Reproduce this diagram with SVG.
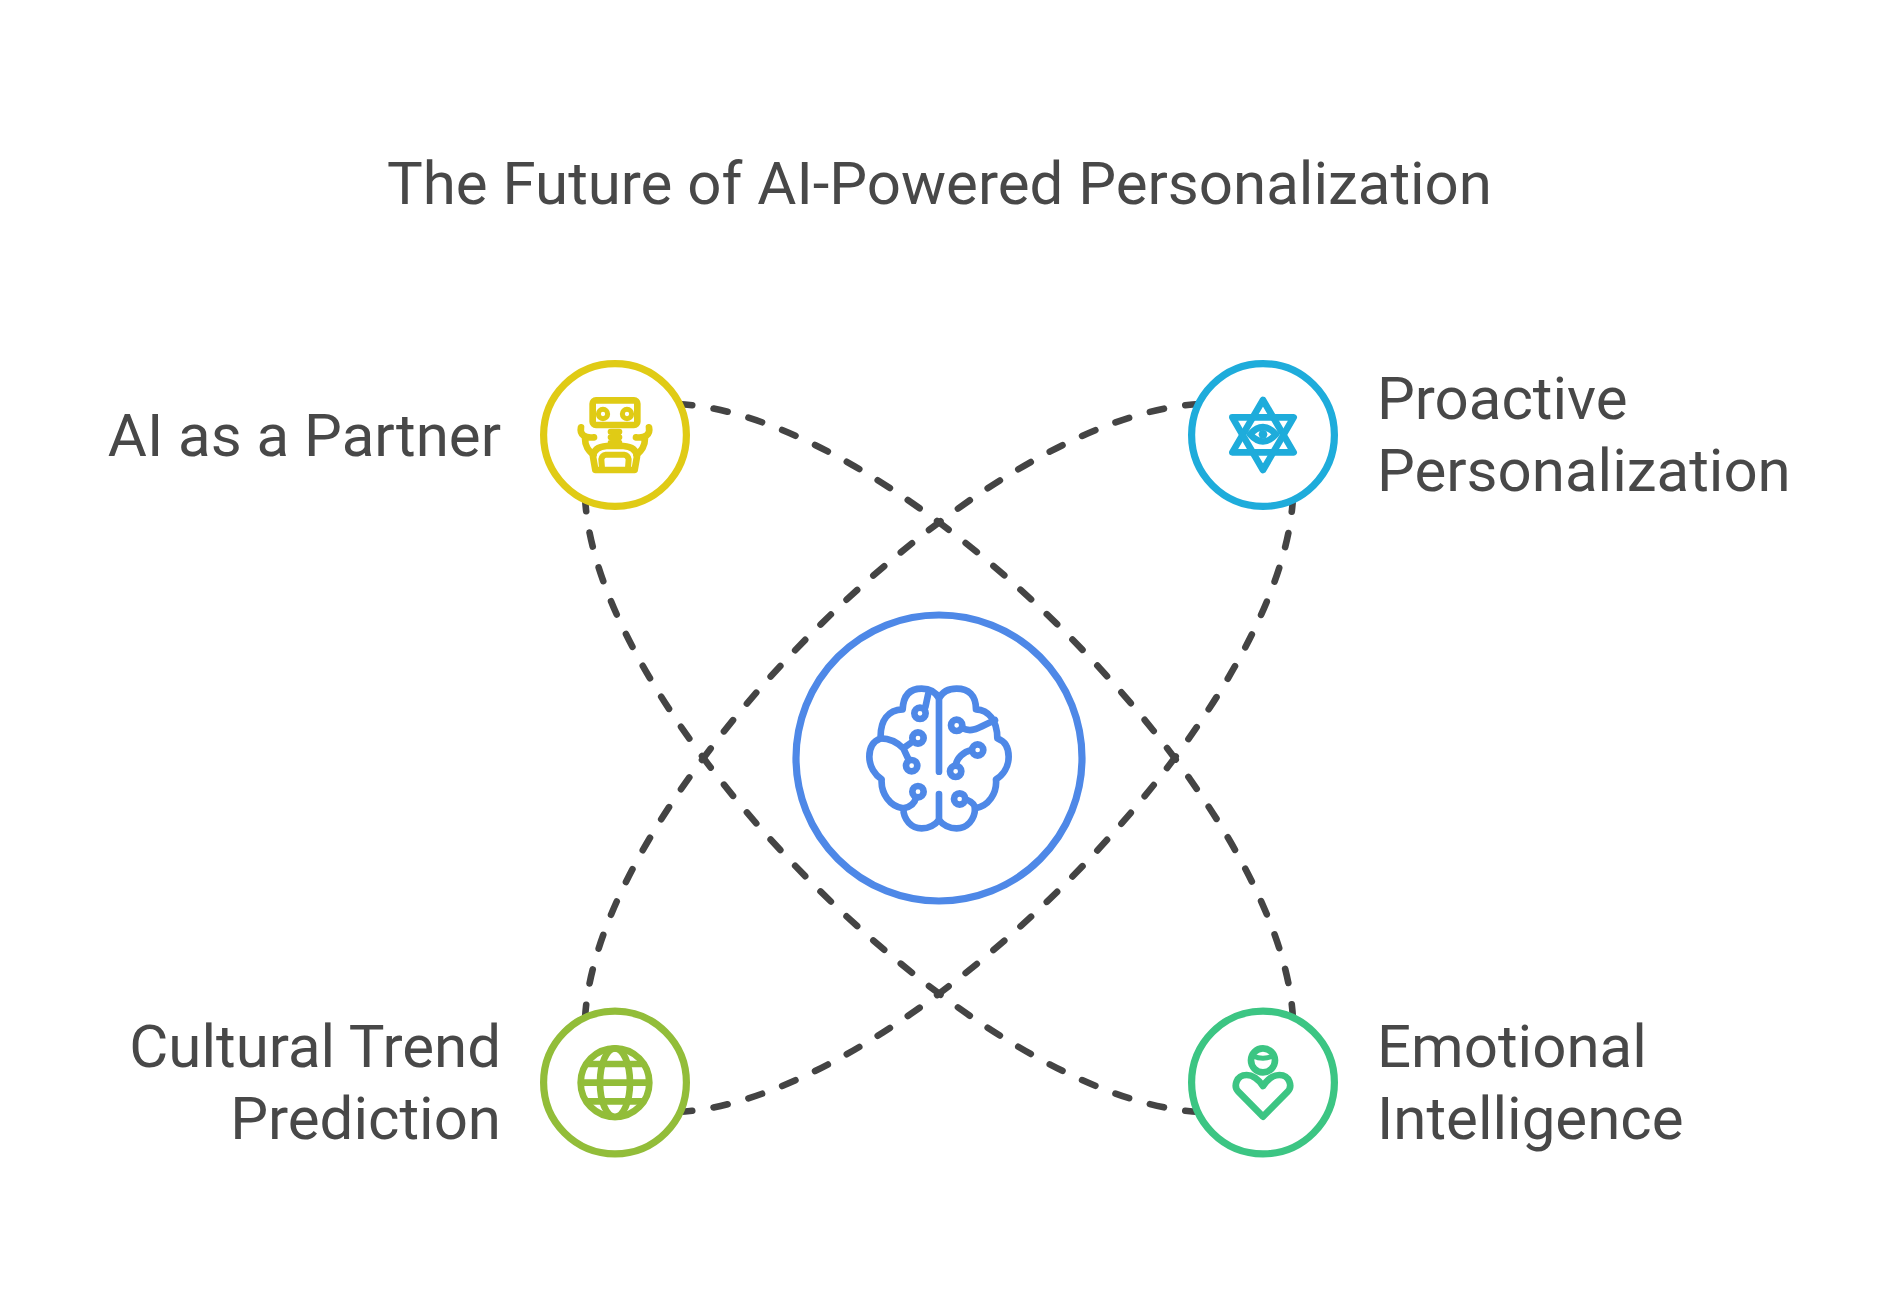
<svg xmlns="http://www.w3.org/2000/svg" width="1878" height="1312" viewBox="0 0 1878 1312">
<style>
text{font-family:Roboto,"Liberation Sans",sans-serif;font-size:60px;fill:#484848}
.end{text-anchor:end}
.ring{fill:#fff;stroke-width:7.2}
.ic{fill:none;stroke-width:20;stroke-linecap:round;stroke-linejoin:round}
.conn{fill:none;stroke:#444;stroke-width:6.6;stroke-linecap:round;stroke-dasharray:14.4 21.6}
.y{stroke:#E0CB15}.b{stroke:#1EACDB}.g{stroke:#92BD39}.t{stroke:#3CC583}.c{stroke:#4E88E7}
</style>
<rect width="1878" height="1312" fill="#fff"/>
<text id="title" x="387" y="203.5">The Future of AI-Powered Personalization</text>
<g id="connectors">
<path class="conn" d="M678 404C901 415 1282 796 1293 1019"/>
<path class="conn" d="M585 497C596 720 977 1101 1200 1112"/>
<path class="conn" d="M585 1019C596 796 977 415 1200 404"/>
<path class="conn" d="M678 1112C901 1101 1282 720 1293 497"/>
</g>
<g id="center">
<circle class="ring c" cx="939" cy="758" r="143"/>
<g class="ic c" transform="translate(840 660) scale(.3333)">
<path d="M297 115C285 92 265 86 245 86C210 86 190 105 188 148C145 150 120 180 122 235C95 245 88 270 88 290C88 320 105 345 125 358C122 400 150 440 190 445C190 480 215 505 245 505C265 505 285 495 297 480C309 495 329 505 350 505C380 505 405 480 405 445C445 440 472 400 468 358C490 345 506 320 506 290C506 270 500 245 472 235C472 180 445 150 408 148C408 105 385 86 350 86C330 86 309 92 297 115Z"/>
<path d="M297 115V335M297 402V480"/>
<circle cx="240" cy="160" r="17"/><path d="M265 100L256 142"/>
<circle cx="234" cy="234" r="17"/><circle cx="215" cy="317" r="17"/>
<path d="M122 235C150 235 175 250 190 265L205 297M190 265L218 245"/>
<circle cx="234" cy="395" r="17"/><path d="M190 445C215 440 225 428 228 412"/>
<circle cx="350" cy="196" r="17"/><path d="M367 205C400 220 420 200 465 180"/>
<circle cx="413" cy="270" r="17"/><circle cx="347" cy="334" r="17"/><path d="M395 270C370 275 350 295 347 317"/>
<circle cx="359" cy="417" r="17"/><path d="M376 417C395 425 405 435 405 445"/>
</g>
</g>
<g id="node-partner">
<circle class="ring y" cx="615" cy="435" r="71.4"/>
<g class="ic y" transform="translate(520 340) scale(.3333)">
<rect x="218" y="181" width="134" height="74" rx="10"/>
<circle cx="249" cy="222" r="14" stroke-width="15"/><circle cx="321" cy="222" r="14" stroke-width="15"/>
<path d="M272 275H298M272 292H298M272 308H298" stroke-width="18"/>
<path d="M226 390L219 350Q222 320 260 318H310Q348 320 351 350L344 390Z"/>
<path d="M246 385L244 358Q246 346 258 344H312Q324 346 326 358L324 385" stroke-width="18"/>
<path d="M183 262C178 285 195 295 222 292M195 295C195 320 205 330 220 345M387 262C392 285 375 295 348 292M375 295C375 320 365 330 350 345"/>
</g>
<text class="end" x="501" y="456">AI as a Partner</text>
</g>
<g id="node-proactive">
<circle class="ring b" cx="1263" cy="435" r="71.4"/>
<g class="ic b" transform="translate(1170 340) scale(.3333)">
<path d="M279 180L371 337H187Z"/><path d="M279 390L371 232H187Z"/>
<path d="M240 283Q279 240 318 283Q279 326 240 283Z" fill="#fff"/>
<circle cx="279" cy="283" r="13" fill="#1EACDB" stroke="none"/>
</g>
<text x="1377" y="419">Proactive</text>
<text x="1377" y="491">Personalization</text>
</g>
<g id="node-cultural">
<circle class="ring g" cx="615" cy="1082.5" r="71.4"/>
<g class="ic g" transform="translate(520 990) scale(.3333)">
<circle cx="285" cy="278" r="103"/>
<ellipse cx="285" cy="278" rx="45" ry="103"/>
<path d="M182 278H388M198 222H372M198 334H372" stroke-linecap="butt"/>
</g>
<text class="end" x="501" y="1067">Cultural Trend</text>
<text class="end" x="501" y="1139">Prediction</text>
</g>
<g id="node-emotional">
<circle class="ring t" cx="1263" cy="1082.5" r="71.4"/>
<g class="ic t" transform="translate(1170 990) scale(.3333)">
<circle cx="279" cy="211" r="36"/>
<path d="M250 198Q279 212 308 198" stroke-width="15"/>
<path d="M279 380L205 305C190 290 198 255 230 255C250 255 265 268 279 288C293 268 308 255 328 255C360 255 368 290 353 305Z"/>
</g>
<text x="1377" y="1067">Emotional</text>
<text x="1377" y="1139">Intelligence</text>
</g>
</svg>
